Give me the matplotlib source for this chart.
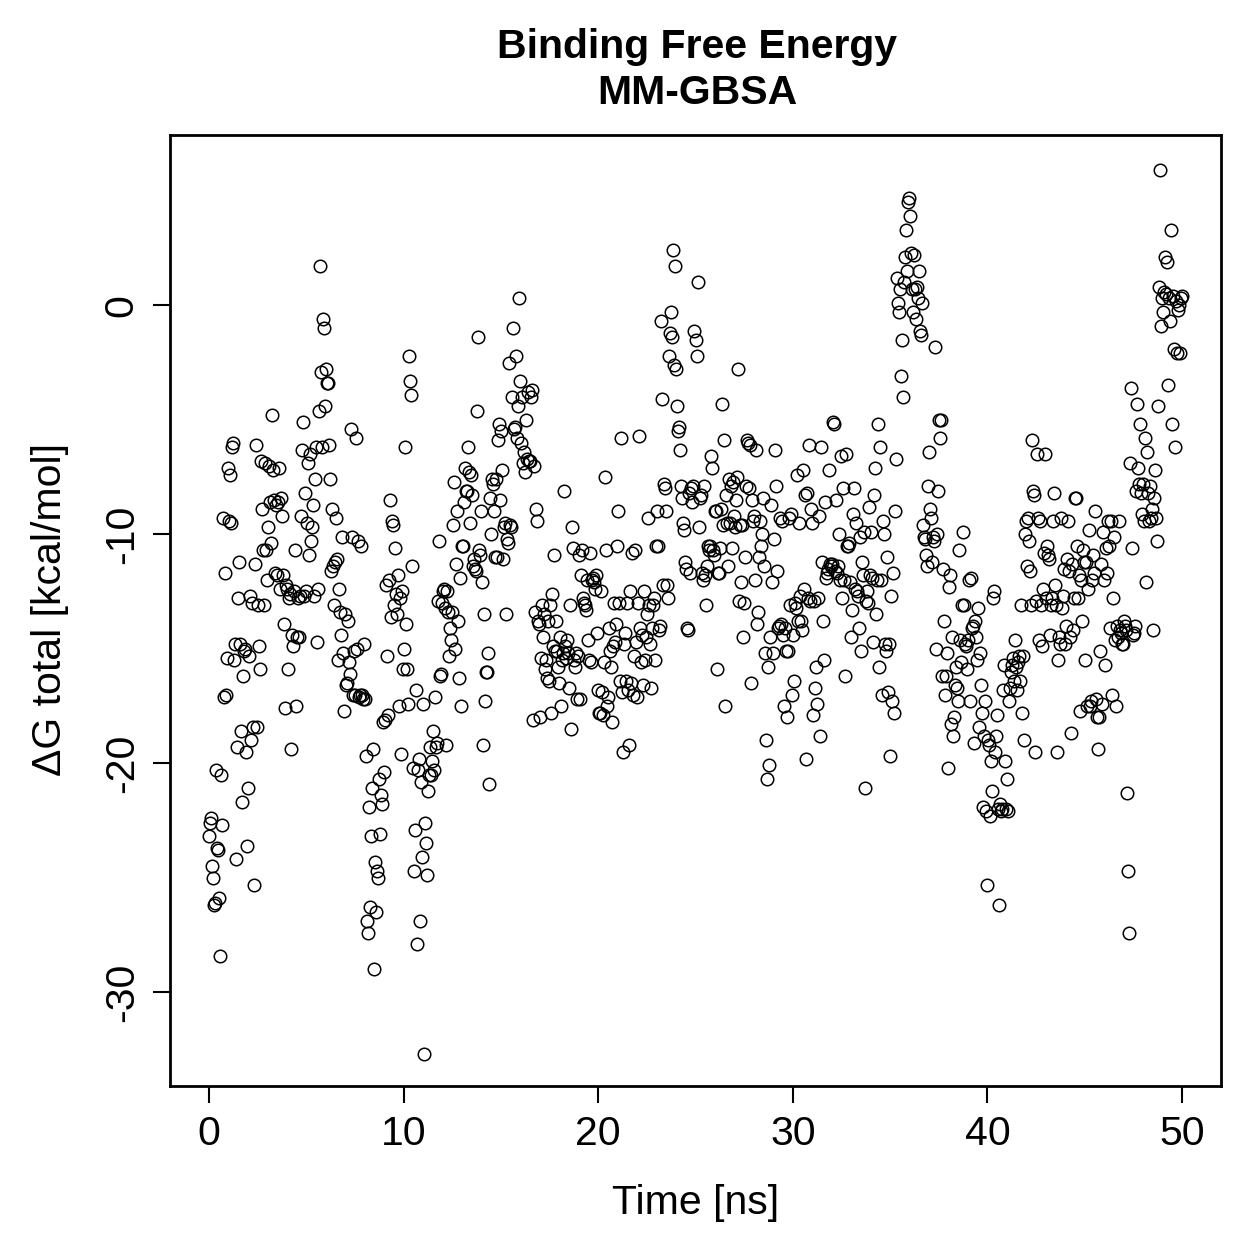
import numpy as np
import matplotlib
matplotlib.use("Agg")
import matplotlib.pyplot as plt

plt.rcParams['font.family'] = ['Liberation Sans', 'DejaVu Sans']

# Delta G total [kcal/mol], read in time order from the reference (0 .. 50 ns)
dg_00_05 = [-23.2,-22.6,-22.4,-24.5,-25.0,-26.2,-26.1,-20.3,-23.7,-23.8,-25.9,-28.4,-20.5,-22.7,-9.3,-17.1,-11.7,-17.0,
            -15.4,-7.1,-9.4,-7.4,-9.5,-6.2,-6.0,-15.5,-14.8,-24.2,-19.3,-12.8,-11.2,-14.8,-18.6,-21.7,-16.2,-15.1,-15.0,-19.5,
            -23.6,-21.1,-15.3,-12.7,-19.0,-13.0,-18.4,-25.3,-11.3,-6.1,-18.4,-13.1,-14.9,-15.9,-6.8,-8.9,-10.7,-13.1,-6.9,-10.7,
            -12.0,-9.7,-7.0,-8.6,-10.4,-4.8,-7.2,-8.5,-11.7,-8.7,-11.8,-8.6,-7.1,-12.4,-8.4,-9.2,-11.8,-13.9,-17.6,-12.2,
            -12.4,-15.9,-12.8,-12.6,-19.4,-14.4,-14.9,-12.5,-10.7,-17.5,-14.5,-12.8,-14.5,-12.7,-9.2,-6.3,-5.1,-12.7,-8.2,-12.5]
dg_05_10 = [-9.5,-6.9,-10.9,-6.5,-10.3,-9.7,-8.7,-12.7,-7.6,-6.2,-14.7,-12.4,-4.6,1.7,-2.9,-6.2,-0.6,
            -1.0,-4.4,-2.8,-3.4,-3.4,-6.1,-7.6,-11.6,-8.9,-11.4,-13.1,-11.2,-9.3,-11.1,-15.5,-12.4,-13.4,-14.4,-10.1,-15.2,
            -17.7,-13.5,-16.6,-16.5,-13.8,-15.6,-16.1,-5.4,-10.1,-17.0,-15.1,-17.0,-5.8,-15.0,-10.3,-17.1,-17.0,-10.5,-17.0,-17.2,
            -14.8,-17.2,-19.7,-26.9,-27.4,-21.9,-26.3,-23.2,-21.1,-19.4,-29.0,-24.3,-26.5,-24.7,-25.0,-20.7,-23.1,-21.4,-21.8,-18.2,
            -20.4,-18.1,-12.2,-15.3,-17.9,-12.0,-8.5,-13.6,-9.4,-9.6,-13.1,-10.6,-12.6,-13.5,-11.8,-17.5,-12.8,-19.6,-12.5,-15.9]
dg_10_15 = [-15.0,-6.2,-13.9,-15.9,-17.4,-2.2,-3.3,-3.9,-11.4,-20.2,-24.7,-22.9,-16.8,-27.9,-20.3,-19.8,-26.9,-20.8,-24.1,-17.4,
            -32.7,-22.6,-23.5,-24.9,-21.2,-20.5,-19.3,-20.5,-19.9,-18.6,-20.3,-17.1,-19.3,-19.1,-12.9,-10.3,-16.2,-16.1,-13.0,-12.5,
            -12.4,-13.2,-19.2,-12.5,-13.4,-15.3,-14.1,-14.6,-13.4,-9.6,-7.7,-15.0,-11.3,-9.0,-13.8,-16.3,-11.9,-17.5,-10.5,-10.5,
            -8.6,-7.1,-8.1,-8.1,-6.2,-7.3,-9.5,-7.4,-8.3,-11.4,-11.1,-11.5,-11.6,-4.6,-1.4,-10.7,-10.9,-9.0,-12.1,-19.2,
            -13.5,-17.3,-16.0,-16.0,-15.2,-20.9,-8.4,-10.0,-7.6,-7.8,-9.0,-11.0,-7.6,-11.0,-5.9,-5.2,-8.5,-5.5,-7.2,-11.1]
dg_15_20 = [-9.7,-9.5,-13.5,-10.2,-10.4,-2.5,-9.6,-9.7,-4.0,-1.0,-5.4,-5.3,-2.2,-5.8,-4.4,0.3,-3.3,-6.0,-4.0,-6.9,
            -6.4,-7.3,-5.0,-6.7,-3.8,-6.8,-6.8,-4.0,-3.7,-18.1,-7.0,-13.4,-8.9,-9.4,-13.8,-13.9,-18.0,-15.4,-13.1,-14.5,
            -13.5,-15.9,-15.5,-16.3,-13.8,-16.4,-13.1,-17.8,-12.6,-14.9,-10.9,-15.1,-13.8,-15.1,-15.8,-16.5,-14.5,-17.5,-15.5,-15.2,
            -8.1,-14.9,-15.4,-14.6,-15.2,-16.7,-13.1,-18.5,-9.7,-10.6,-15.5,-15.8,-15.2,-17.2,-15.3,-10.9,-17.2,-11.8,-10.7,-12.8,
            -13.0,-13.1,-13.3,-12.0,-14.6,-15.5,-10.8,-15.6,-12.0,-11.9,-12.1,-12.4,-11.8,-14.3,-16.8,-17.8,-17.8,-12.5,-16.9,-17.9]
dg_20_25 = [-15.6,-7.5,-10.7,-17.5,-17.1,-14.1,-15.1,-15.8,-18.2,-14.9,-13.0,-14.7,-13.9,-10.5,-9.0,-13.0,-16.4,-5.8,-16.9,-19.5,
            -14.8,-14.3,-16.4,-13.0,-16.8,-19.2,-12.5,-16.5,-10.8,-17.0,-15.3,-10.7,-14.7,-17.1,-13.0,-5.7,-14.1,-15.6,-14.4,-16.6,
            -12.5,-15.5,-14.5,-13.5,-9.3,-13.1,-14.8,-16.7,-14.1,-13.1,-12.8,-15.5,-10.5,-9.0,-10.5,-14.2,-14.0,-0.7,-4.1,-12.2,
            -7.8,-8.0,-9.0,-12.2,-12.8,-2.2,-1.2,-0.3,-1.4,2.4,-2.6,1.7,-2.8,-4.4,-5.5,-5.3,-6.3,-7.9,-8.4,-9.5,
            -9.8,-11.2,-11.5,-14.1,-14.2,-8.2,-11.7,-8.0,-8.6,-7.9,-1.1,-1.5,-2.2,1.0,-9.7,-8.4,-8.3,-11.7,-12.0,-7.9]
dg_25_30 = [-11.8,-13.1,-11.4,-10.5,-10.7,-10.5,-6.6,-7.1,-10.7,-10.9,-9.0,-9.0,-15.9,-11.7,-11.7,-10.6,-8.9,-4.3,-9.6,-5.9,
            -17.5,-8.3,-9.5,-11.4,-7.6,-9.5,-7.9,-10.6,-7.7,-9.2,-9.7,-8.5,-7.5,-2.8,-12.9,-9.6,-12.1,-9.6,-14.5,-13.0,
            -11.0,-7.9,-5.9,-6.0,-8.0,-6.1,-16.5,-8.5,-9.4,-9.2,-12.0,-6.3,-13.9,-13.4,-11.0,-9.4,-10.5,-10.0,-8.4,-11.4,
            -15.2,-19.0,-20.7,-15.8,-20.1,-14.5,-8.7,-12.1,-15.2,-10.2,-6.3,-7.9,-11.6,-14.1,-14.0,-9.3,-13.9,-9.4,-14.4,-17.5,
            -14.1,-15.1,-18.0,-15.1,-9.3,-13.1,-9.1,-17.0,-14.4,-16.4,-13.0,-13.2,-7.4,-13.8,-9.5,-12.7,-13.8,-14.2,-7.2,-12.4]
dg_30_35 = [-8.3,-19.8,-8.2,-12.8,-6.1,-12.9,-8.9,-9.5,-17.9,-12.9,-16.7,-15.8,-17.4,-12.8,-9.2,-18.8,-6.2,-11.2,-13.8,-15.5,
            -8.6,-11.9,-11.7,-11.5,-7.2,-11.3,-11.4,-11.3,-5.1,-5.2,-11.6,-8.5,-11.7,-11.4,-10.0,-12.0,-6.6,-12.8,-8.0,-12.0,
            -16.2,-6.5,-10.5,-10.5,-10.4,-12.1,-14.5,-13.3,-9.1,-8.0,-12.4,-9.5,-12.5,-12.7,-14.1,-10.1,-15.1,-11.2,-11.8,-9.9,
            -21.1,-12.9,-12.5,-13.0,-8.8,-11.8,-9.9,-11.9,-14.7,-8.3,-7.1,-13.5,-12.0,-5.2,-15.8,-6.2,-12.0,-17.0,-9.4,-10.0,
            -14.8,-15.1,-11.0,-16.9,-14.8,-19.7,-12.7,-17.3,-11.7,-17.8,-9.0,-6.7,1.2,0.1,-0.3,0.7,-3.1,-1.5,-4.0,1.0]
dg_35_40 = [2.1,3.3,1.5,4.5,4.7,3.9,2.3,0.7,-0.3,2.2,0.7,-0.6,0.8,0.3,1.5,-1.1,-1.3,0.1,-9.6,-10.1,
            -10.2,-10.9,-11.4,-7.9,-6.4,-8.9,-9.3,-11.2,-10.1,-10.3,-1.8,-15.0,-10.0,-8.1,-5.0,-5.8,-5.0,-16.2,-11.5,-13.8,
            -17.0,-16.2,-15.2,-20.2,-12.3,-11.8,-18.3,-14.5,-18.8,-18.0,-16.6,-15.8,-16.7,-17.3,-10.7,-14.6,-15.6,-13.1,-9.9,-13.1,
            -14.8,-14.9,-15.9,-14.6,-12.0,-17.3,-11.9,-14.1,-14.0,-19.1,-13.8,-14.5,-15.5,-13.2,-18.4,-15.2,-16.6,-17.8,-21.9,-18.8,
            -17.3,-22.1,-25.3,-19.0,-19.2,-22.3,-19.9,-21.2,-12.8,-12.5,-19.5,-18.8,-17.9,-22.0,-26.2,-21.8,-22.1,-22.0,-16.8,-15.7]
dg_40_45 = [-19.9,-22.0,-20.7,-22.1,-17.3,-16.7,-16.0,-15.7,-15.4,-16.4,-14.6,-15.8,-16.8,-15.6,-15.3,-16.4,-13.1,-17.8,-15.3,-19.0,
            -10.0,-9.4,-11.4,-9.3,-10.3,-11.6,-13.1,-5.9,-8.1,-8.3,-19.5,-12.9,-6.5,-9.3,-14.6,-9.4,-13.1,-14.9,-12.4,-10.8,
            -6.5,-12.8,-10.5,-10.9,-11.1,-14.4,-13.1,-12.8,-9.4,-8.2,-12.2,-13.1,-19.5,-15.5,-14.5,-14.8,-9.3,-13.2,-12.7,-11.5,
            -14.8,-14.0,-11.1,-9.4,-11.6,-14.5,-18.7,-11.3,-14.2,-12.8,-8.4,-8.4,-10.5,-12.8,-11.8,-17.7,-12.0,-13.8,-10.7,-11.2,
            -15.5,-11.2,-17.5,-12.4,-9.8,-17.5,-17.3,-12.0,-10.9,-11.7,-9.0,-17.2,-18.0,-19.4,-18.0,-15.1,-11.3,-17.4,-9.9,-12.0]
dg_45_50 = [-15.7,-10.6,-11.7,-9.4,-10.5,-14.1,-9.4,-17.0,-12.8,-10.1,-14.6,-17.5,-14.0,-14.5,-9.4,-14.2,-14.3,-14.8,-14.8,-13.8,
            -14.0,-14.2,-21.3,-24.7,-27.4,-6.9,-3.6,-10.6,-14.4,-14.3,-14.0,-8.1,-4.3,-7.1,-7.8,-5.2,-8.2,-9.1,-7.8,-9.4,
            -5.8,-12.1,-6.4,-8.2,-9.4,-7.9,-9.3,-8.9,-14.2,-8.4,-7.2,-9.3,-10.3,-4.4,0.8,5.9,-0.9,0.3,-0.3,0.6,
            2.1,0.5,1.9,-3.5,0.3,-0.7,3.3,-5.2,0.4,-1.9,-6.2,0.2,-2.1,-0.2,0.0,-2.1,0.3,0.4]

dg_total = np.array(dg_00_05 + dg_05_10 + dg_10_15 + dg_15_20 + dg_20_25 +
                    dg_25_30 + dg_30_35 + dg_35_40 + dg_40_45 + dg_45_50)
t_start, t_end = 0.0, 50.0
time_ns = np.linspace(t_start, t_end, len(dg_total))

x_ticks = [0, 10, 20, 30, 40, 50]
y_ticks = [0, -10, -20, -30]

W = 1259
fig = plt.figure(figsize=(W/100, W/100), dpi=100)
ax = fig.add_axes([170/W, 1 - 1086/W, (1221-170)/W, (1086-135)/W])

ax.plot(time_ns, dg_total, linestyle='none', marker='o', markersize=9,
        markerfacecolor='none', markeredgecolor='black', markeredgewidth=1.1)

ax.set_xlim(-2, 52)
ax.set_ylim(-34.1, 7.44)
ax.set_xticks(x_ticks)
ax.set_yticks(y_ticks)
ax.set_yticklabels([str(v) for v in y_ticks], rotation=90, va='center')
ax.tick_params(axis='both', direction='out', length=12, width=1.5,
               labelsize=29.5, pad=9)
for s in ax.spines.values():
    s.set_linewidth(2)

fig.text(695.5/W, 1 - 1203/W, 'Time [ns]', fontsize=29.5, ha='center', va='center')
fig.text(50/W, 1 - 610/W, 'ΔG total [kcal/mol]', fontsize=29.5, ha='center',
         va='center', rotation=90)
fig.text(697/W, 1 - 70/W, 'Binding Free Energy\nMM-GBSA', fontsize=29.5,
         fontweight='bold', ha='center', va='center', linespacing=1.3)

fig.savefig('out.png', dpi=100)
